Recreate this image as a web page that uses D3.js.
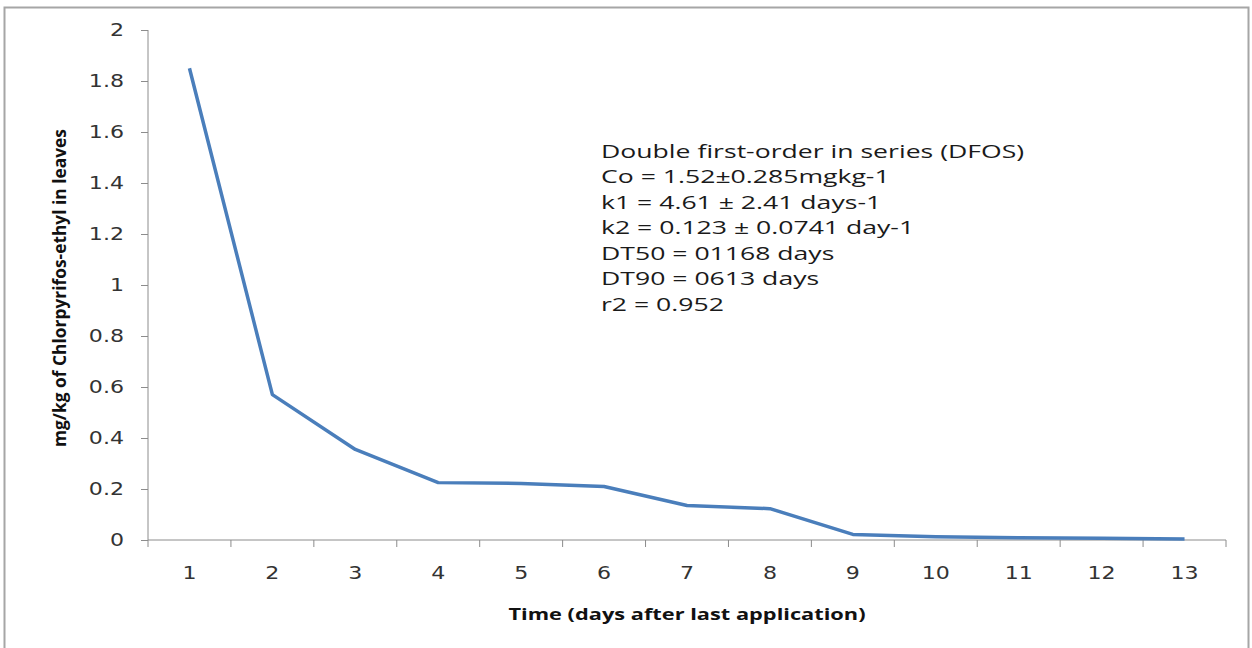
<!DOCTYPE html>
<html>
<head>
<meta charset="utf-8">
<script src="https://cdn.jsdelivr.net/npm/d3@7"></script>
<style>
  body { margin: 0; background: #fff; }
  svg { display: block; }
</style>
</head>
<body>
<svg id="chart" width="1252" height="648"></svg>
<script>
// data
var days = ["1","2","3","4","5","6","7","8","9","10","11","12","13"];
var residue = [1.85, 0.57, 0.355, 0.225, 0.222, 0.21, 0.135, 0.123, 0.022, 0.013, 0.009, 0.007, 0.004];
var yTicks = [0, 0.2, 0.4, 0.6, 0.8, 1, 1.2, 1.4, 1.6, 1.8, 2];
var noteLines = [
  "Double first-order in series (DFOS)",
  "Co = 1.52\u00b10.285mgkg-1",
  "k1 = 4.61 \u00b1 2.41 days-1",
  "k2 = 0.123 \u00b1 0.0741 day-1",
  "DT50 = 01168 days",
  "DT90 = 0613 days",
  "r2 = 0.952"
];

var svg = d3.select("#chart");
var margin = {left: 148, right: 1226, top: 30, bottom: 540};
var axisColor = "#8c8c8c";
var tickFont = "'DejaVu Sans', Verdana, sans-serif";
// the original picture is stretched sideways, so text is too
var stretch = 1.3;

// outer frame
svg.append("path")
  .attr("d", "M4.5,648 L4.5,7.5 L1248.5,7.5 L1248.5,648")
  .attr("fill", "none")
  .attr("stroke", "#a6a6a6")
  .attr("stroke-width", 2);

var x = d3.scaleBand().domain(days).range([margin.left, margin.right]);
var y = d3.scaleLinear().domain([0, 2]).range([margin.bottom, margin.top]);

// y axis
var yAxis = svg.append("g")
  .attr("transform", "translate(" + margin.left + ",0)")
  .call(d3.axisLeft(y).tickValues(yTicks).tickSize(7)
    .tickFormat(function(d) { return String(+d.toFixed(1)); }));
yAxis.select(".domain").attr("stroke", axisColor).attr("d", "M0," + margin.top + "V" + margin.bottom);
yAxis.selectAll(".tick line").attr("stroke", axisColor);
yAxis.selectAll("text")
  .attr("x", 0)
  .attr("transform", "translate(-24,0) scale(" + stretch + ",1)")
  .attr("fill", "#333")
  .attr("font-family", tickFont)
  .attr("font-size", 17);

// x axis: ticks sit on the band edges
var xAxis = svg.append("g")
  .attr("transform", "translate(0," + margin.bottom + ")");
xAxis.append("line")
  .attr("x1", margin.left).attr("x2", margin.right)
  .attr("stroke", axisColor);
xAxis.selectAll(".edge")
  .data(days.concat(["end"]))
  .enter().append("line")
  .attr("class", "edge")
  .attr("x1", function(d, i) { return margin.left + i * x.step(); })
  .attr("x2", function(d, i) { return margin.left + i * x.step(); })
  .attr("y1", 0).attr("y2", 7)
  .attr("stroke", axisColor);
xAxis.selectAll(".lbl")
  .data(days)
  .enter().append("text")
  .attr("class", "lbl")
  .attr("transform", function(d) {
    return "translate(" + (x(d) + x.bandwidth() / 2) + ",39) scale(" + stretch + ",1)";
  })
  .attr("text-anchor", "middle")
  .attr("fill", "#333")
  .attr("font-family", tickFont)
  .attr("font-size", 17)
  .text(function(d) { return d; });

// the series
var line = d3.line()
  .x(function(d, i) { return x(days[i]) + x.bandwidth() / 2; })
  .y(function(d) { return y(d); });

svg.append("path")
  .datum(residue)
  .attr("d", line)
  .attr("fill", "none")
  .attr("stroke", "#4a7ebb")
  .attr("stroke-width", 3.5)
  .attr("stroke-linejoin", "round");

// axis titles
svg.append("text")
  .attr("transform", "translate(687,620) scale(1.32,1)")
  .attr("text-anchor", "middle")
  .attr("font-family", "'Open Sans', sans-serif")
  .attr("font-weight", "bold")
  .attr("font-size", 16.5)
  .attr("fill", "#111")
  .text("Time (days after last application)");

svg.append("text")
  .attr("transform", "translate(66,288) rotate(-90)")
  .attr("text-anchor", "middle")
  .attr("font-family", "'Liberation Sans Narrow', 'Open Sans', sans-serif")
  .attr("font-weight", "bold")
  .attr("font-size", 18)
  .attr("textLength", 318)
  .attr("lengthAdjust", "spacingAndGlyphs")
  .attr("fill", "#111")
  .text("mg/kg of Chlorpyrifos-ethyl in leaves");

// model note
svg.append("g")
  .attr("transform", "translate(601,0) scale(1.4,1)")
  .selectAll("text")
  .data(noteLines)
  .enter().append("text")
  .attr("x", 0)
  .attr("y", function(d, i) { return 158 + i * 25.5; })
  .attr("font-family", "'Open Sans', sans-serif")
  .attr("font-size", 19)
  .attr("fill", "#1a1a1a")
  .text(function(d) { return d; });
</script>
</body>
</html>
